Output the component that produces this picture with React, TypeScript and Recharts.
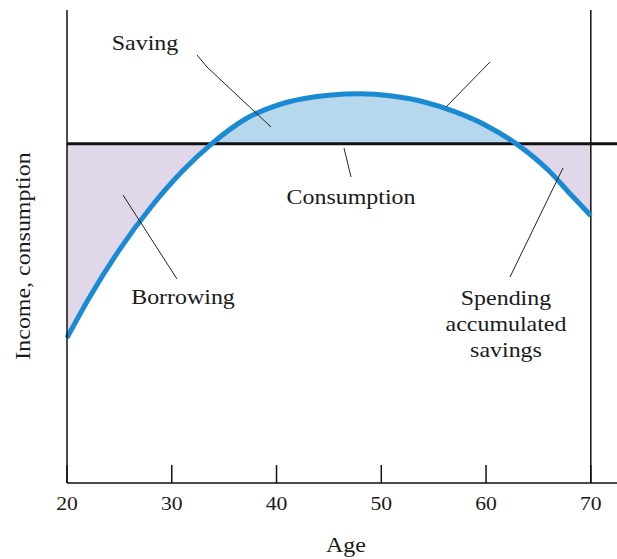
import { ComposedChart, Area, Line, XAxis, YAxis, ReferenceLine } from 'recharts'

// life-cycle income (blue curve) against a flat consumption level
const ages = [20, 22, 25, 28, 31, 33.8, 37, 41, 45, 48, 51, 54, 57, 60, 62.9, 66, 68, 70]
const income = [30.7, 38.7, 49.3, 58.3, 65.9, 71.7, 76.9, 80.5, 82.0, 82.3, 81.8, 80.6, 78.5, 75.6, 71.7, 66.0, 61.2, 56.5]
const consumptionLevel = 71.7
const xTicks = [20, 30, 40, 50, 60, 70]

const rows = ages.map((age, i) => ({
  age,
  income: income[i],
  saving: income[i] >= consumptionLevel ? [consumptionLevel, income[i]] : null,
  borrowing: income[i] <= consumptionLevel ? [income[i], consumptionLevel] : null,
}))

const font = '"Liberation Serif", serif'
const SX = 1.14

// wide serif lettering, like the original print
const Txt = ({ x, y, size = 21, rotate = 0, children }: any) => (
  <text transform={`translate(${x},${y}) rotate(${rotate}) scale(${SX},1)`} textAnchor="middle"
    fontFamily={font} fontSize={size} fill="#1a1a1a">{children}</text>
)

const AgeTick = ({ x, y, payload }: any) => (
  <g>
    <line x1={x} x2={x} y1={y - 18} y2={y} stroke="#111" strokeWidth={1.5} />
    <Txt x={x} y={y + 27} size={19}>{payload.value}</Txt>
  </g>
)

export default function App() {
  const ptr = { stroke: '#222', strokeWidth: 1, fill: 'none' }
  return (
    <div style={{ position: 'absolute', left: 0, top: 0, width: 617, height: 559, background: '#fff', overflow: 'hidden' }}>
      <ComposedChart width={617} height={559} data={rows} margin={{ top: 10, right: 0, bottom: 0, left: 0 }}>
        <XAxis dataKey="age" type="number" domain={[20, 72.5]} ticks={xTicks} tick={<AgeTick />}
          tickLine={false} tickSize={0} tickMargin={0} height={76} stroke="#111" strokeWidth={1.5} interval={0} />
        <YAxis type="number" domain={[0, 100]} width={67} tick={false} tickLine={false} stroke="#111" strokeWidth={1.5} />
        <Area type="monotone" dataKey="borrowing" stroke="none" fill="#e0d7e8" fillOpacity={1} isAnimationActive={false} />
        <Area type="monotone" dataKey="saving" stroke="none" fill="#b7d7ec" fillOpacity={1} isAnimationActive={false} />
        <ReferenceLine x={70} stroke="#111" strokeWidth={1.5} />
        <ReferenceLine y={consumptionLevel} stroke="#111" strokeWidth={3} />
        <Line type="monotone" dataKey="income" stroke="#1a8bd2" strokeWidth={5} dot={false} isAnimationActive={false} />
      </ComposedChart>
      <svg width={617} height={559} style={{ position: 'absolute', left: 0, top: 0, pointerEvents: 'none' }}>
        <Txt x={145} y={50}>Saving</Txt>
        <polyline points="197,55 207,67 271,127" {...ptr} />
        <line x1={490} y1={62} x2={446} y2={107} {...ptr} />
        <line x1={344} y1={148} x2={351} y2={177} {...ptr} />
        <Txt x={351} y={204}>Consumption</Txt>
        <line x1={123} y1={195} x2={177} y2={279} {...ptr} />
        <Txt x={183} y={304}>Borrowing</Txt>
        <line x1={563} y1={168} x2={510} y2={277} {...ptr} />
        <Txt x={506} y={305}>Spending</Txt>
        <Txt x={506} y={331}>accumulated</Txt>
        <Txt x={506} y={357}>savings</Txt>
        <Txt x={346} y={552}>Age</Txt>
        <Txt x={30} y={256} rotate={-90}>Income, consumption</Txt>
      </svg>
    </div>
  )
}
